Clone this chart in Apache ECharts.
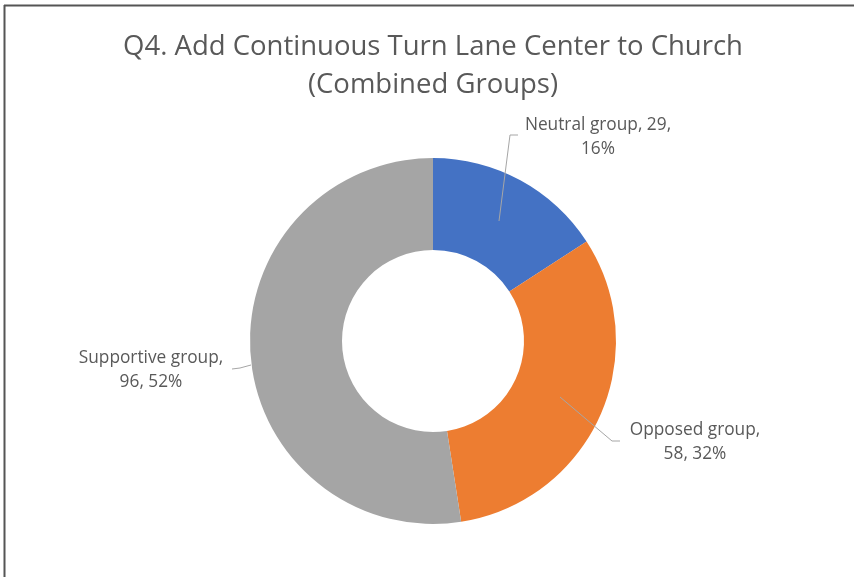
<!DOCTYPE html>
<html>
<head>
<meta charset="utf-8">
<title>Q4 chart</title>
<script src="https://cdn.jsdelivr.net/npm/echarts@6/dist/echarts.min.js"></script>
<style>
  html, body { margin: 0; padding: 0; background: #fff; }
  #chart { width: 854px; height: 577px; }
</style>
</head>
<body>
<div id="chart"></div>
<script>
  // data
  var groups = ['Neutral group', 'Opposed group', 'Supportive group'];
  var counts = [29, 58, 96];
  var colors = ['#4472C4', '#ED7D31', '#A5A5A5'];
  var titleText = 'Q4. Add Continuous Turn Lane Center to Church\n(Combined Groups)';

  // where the labels sit (Excel style, placed by hand)
  var labelPos = [[598, 137], [695, 442], [151, 370]];
  var leaderLines = [
    [[499, 221], [510, 135], [518, 135]],
    [[560, 397], [612, 441], [620, 441]],
    [[251, 365], [240, 368], [232, 369]]
  ];

  var total = counts.reduce(function (a, b) { return a + b; }, 0);
  var pieData = groups.map(function (name, i) {
    return { name: name, value: counts[i], itemStyle: { color: colors[i] } };
  });
  // same slices, see-through, only to carry labels + leader lines on top
  var labelData = groups.map(function (name, i) {
    return { name: name, value: counts[i], itemStyle: { color: 'rgba(0,0,0,0)' } };
  });

  var myChart = echarts.init(document.getElementById('chart'));
  myChart.setOption({
    backgroundColor: '#fff',
    animation: false,
    title: {
      text: titleText,
      left: 428,
      top: 23,
      textAlign: 'center',
      textStyle: {
        fontFamily: 'Open Sans',
        fontSize: 27.5,
        fontWeight: 'normal',
        color: '#595959',
        lineHeight: 38
      }
    },
    graphic: [
      { type: 'line', shape: { x1: 4, y1: 5.5, x2: 854, y2: 5.5 }, style: { stroke: '#555', lineWidth: 2 } },
      { type: 'line', shape: { x1: 4.5, y1: 5, x2: 4.5, y2: 577 }, style: { stroke: '#555', lineWidth: 2 } }
    ],
    series: [
      {
        type: 'pie',
        center: [433, 341],
        radius: [91, 183],
        startAngle: 90,
        clockwise: true,
        z: 2,
        label: { show: false },
        labelLine: { show: false },
        itemStyle: { borderWidth: 0 },
        emphasis: { disabled: true },
        silent: true,
        data: pieData
      },
      {
        type: 'pie',
        center: [433, 341],
        radius: [91, 183],
        startAngle: 90,
        clockwise: true,
        z: 5,
        avoidLabelOverlap: false,
        itemStyle: { borderWidth: 0 },
        label: {
          show: true,
          position: 'outside',
          fontFamily: 'Open Sans',
          fontSize: 17.3,
          lineHeight: 24,
          color: '#595959',
          align: 'center',
          formatter: function (p) {
            var pct = Math.round(p.value / total * 100);
            if (p.dataIndex === 0) return p.name + ', ' + p.value + ',\n' + pct + '%';
            return p.name + ',\n' + p.value + ', ' + pct + '%';
          }
        },
        labelLine: {
          show: true,
          lineStyle: { color: '#A6A6A6', width: 1 }
        },
        labelLayout: function (p) {
          var i = p.dataIndex;
          return {
            x: labelPos[i][0],
            y: labelPos[i][1],
            align: 'center',
            verticalAlign: 'middle',
            labelLinePoints: leaderLines[i]
          };
        },
        emphasis: { disabled: true },
        silent: true,
        data: labelData
      }
    ]
  });
</script>
</body>
</html>
